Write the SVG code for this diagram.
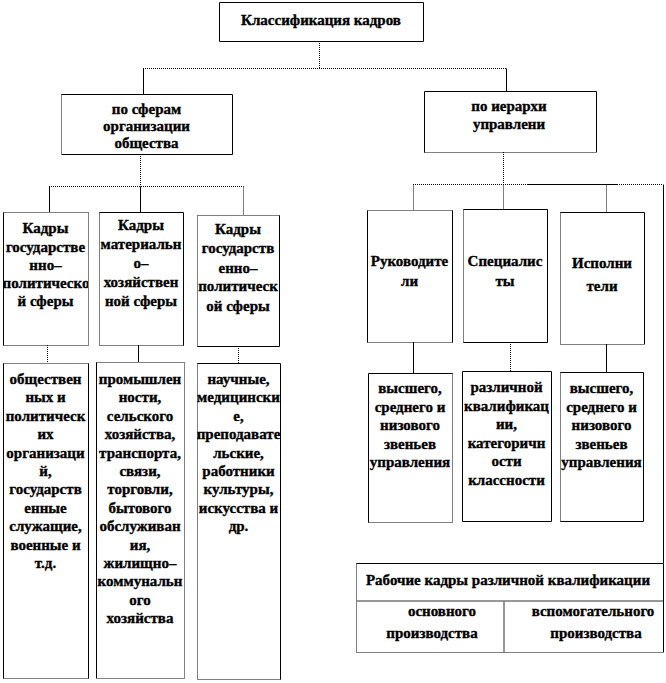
<svg xmlns="http://www.w3.org/2000/svg" width="666" height="683" viewBox="0 0 666 683">
<style>
.s{stroke:#000;stroke-width:1;fill:none}
.d{stroke:#000;stroke-width:1;stroke-dasharray:1 1;fill:none}
.g{stroke:#777;stroke-width:1.5;fill:none}
.bg{fill:#fff;stroke:none}
.t{font-family:'Liberation Serif','Times New Roman',serif;font-weight:700;font-size:15px;text-anchor:middle;fill:#000;stroke:#000;stroke-width:0.35}
</style>
<defs>
<clipPath id="cA1"><rect x="3" y="212" width="85" height="133"/></clipPath>
<clipPath id="cA3"><rect x="197" y="215" width="82" height="131"/></clipPath>
<clipPath id="cC3"><rect x="197" y="363" width="83" height="316"/></clipPath>
</defs>
<rect width="666" height="683" fill="#fff"/>
<g id="connectors">
<path class="d" d="M319.5 41V68.5M143 68.5H506"/>
<path class="s" d="M143.5 68.5V94M506.5 68.5V91"/>
<path class="d" d="M140.5 154V186.5M49 186.5H243.5M243.5 186.5V215"/>
<path class="s" d="M49.5 186.5V212M140.5 186.5V212"/>
<path class="d" d="M503.5 152V184.5M413 184.5H527M617 184.5H663M413.5 184.5V210M503.5 184.5V209M606.5 184.5V212"/>
<path class="s" d="M527 184.5H617M663.5 184.5V563"/>
<path class="d" d="M47.5 345V363M238.5 346V363"/>
<path class="s" d="M138.5 345V362"/>
<path class="s" d="M413.5 342V373M606.5 344V372"/>
<path class="d" d="M510.5 342V371"/>
</g>
<g id="root">
<rect class="bg" x="219" y="2" width="204" height="39"/>
<path class="s" d="M219.5 2.5H423.5V41.5H219.5Z"/>
<text class="t" x="321" y="25">Классификация кадров</text>
</g>
<g id="spheres">
<rect class="bg" x="61" y="94" width="171" height="60"/>
<path class="s" d="M61.5 94.5H232.5V154.5H61.5"/>
<path class="d" d="M61.5 94.5V154.5"/>
<text class="t" x="146.5" y="114">по сферам</text>
<text class="t" x="146.5" y="131">организации</text>
<text class="t" x="146.5" y="148">общества</text>
</g>
<g id="hierarchy">
<rect class="bg" x="424" y="91" width="172" height="61"/>
<path class="s" d="M424.5 152.5V91.5H596.5V152.5"/>
<path class="d" d="M424.5 152.5H596.5"/>
<text class="t" x="509" y="111">по иерархи</text>
<text class="t" x="509" y="129">управлени</text>
</g>
<g id="state-political">
<rect class="bg" x="3" y="212" width="85" height="133"/>
<path class="s" d="M3.5 212.5V345.5"/>
<path class="d" d="M3.5 212.5H88.5V345.5H3.5"/>
<g clip-path="url(#cA1)">
<text class="t" x="45.5" y="233">Кадры</text>
<text class="t" x="45.5" y="252">государстве</text>
<text class="t" x="45.5" y="270">нно–</text>
<text class="t" x="46" y="288">политическо</text>
<text class="t" x="45.5" y="306">й сферы</text>
</g>
</g>
<g id="material">
<rect class="bg" x="99" y="212" width="84" height="133"/>
<path class="s" d="M99.5 212.5H183.5V345.5"/>
<path class="d" d="M99.5 212.5V345.5H183.5"/>
<text class="t" x="141" y="230">Кадры</text>
<text class="t" x="141" y="249">материальн</text>
<text class="t" x="141" y="268">о–</text>
<text class="t" x="141" y="287">хозяйствен</text>
<text class="t" x="141" y="306">ной сферы</text>
</g>
<g id="state-political-2">
<rect class="bg" x="197" y="215" width="82" height="131"/>
<path class="s" d="M279.5 215.5V346.5H197.5"/>
<path class="d" d="M197.5 346.5V215.5H279.5"/>
<g clip-path="url(#cA3)">
<text class="t" x="238" y="234">Кадры</text>
<text class="t" x="238" y="253">государств</text>
<text class="t" x="238" y="273">енно–</text>
<text class="t" x="238" y="291">политическ</text>
<text class="t" x="238" y="311">ой сферы</text>
</g>
</g>
<g id="managers">
<rect class="bg" x="367" y="210" width="85" height="132"/>
<path class="s" d="M367.5 210.5V342.5M452.5 210.5V342.5"/>
<path class="d" d="M367.5 210.5H452.5M367.5 342.5H452.5"/>
<text class="t" x="409.5" y="266">Руководите</text>
<text class="t" x="409.5" y="286">ли</text>
</g>
<g id="specialists">
<rect class="bg" x="463" y="209" width="84" height="133"/>
<path class="s" d="M463.5 209.5H547.5V342.5H463.5"/>
<path class="d" d="M463.5 209.5V342.5"/>
<text class="t" x="505" y="266">Специалис</text>
<text class="t" x="505" y="286">ты</text>
</g>
<g id="executors">
<rect class="bg" x="560" y="212" width="84" height="132"/>
<path class="s" d="M560.5 212.5H644.5V344.5"/>
<path class="d" d="M560.5 212.5V344.5H644.5"/>
<text class="t" x="602" y="268">Исполни</text>
<text class="t" x="602" y="291">тели</text>
</g>
<g id="public-orgs">
<rect class="bg" x="3" y="363" width="85" height="315"/>
<path class="s" d="M3.5 363.5V678.5M88.5 363.5V678.5"/>
<path class="d" d="M3.5 363.5H88.5M3.5 678.5H88.5"/>
<text class="t" x="45.5" y="384">обществен</text>
<text class="t" x="45.5" y="402.4">ных и</text>
<text class="t" x="45.5" y="420.8">политическ</text>
<text class="t" x="45.5" y="439.2">их</text>
<text class="t" x="45.5" y="457.6">организаци</text>
<text class="t" x="45.5" y="476">й,</text>
<text class="t" x="45.5" y="494.4">государств</text>
<text class="t" x="45.5" y="512.8">енные</text>
<text class="t" x="45.5" y="531.2">служащие,</text>
<text class="t" x="45.5" y="549.6">военные и</text>
<text class="t" x="45.5" y="568">т.д.</text>
</g>
<g id="industry">
<rect class="bg" x="96" y="362" width="88" height="316"/>
<path class="s" d="M96.5 362.5V678.5"/>
<path class="d" d="M96.5 362.5H184.5V678.5H96.5"/>
<text class="t" x="140" y="384">промышлен</text>
<text class="t" x="140" y="402.4">ности,</text>
<text class="t" x="140" y="420.8">сельского</text>
<text class="t" x="140" y="439.2">хозяйства,</text>
<text class="t" x="140" y="457.6">транспорта,</text>
<text class="t" x="140" y="476">связи,</text>
<text class="t" x="140" y="494.4">торговли,</text>
<text class="t" x="140" y="512.8">бытового</text>
<text class="t" x="140" y="531.2">обслуживан</text>
<text class="t" x="140" y="549.6">ия,</text>
<text class="t" x="140" y="568">жилищно–</text>
<text class="t" x="140" y="586.4">коммунальн</text>
<text class="t" x="140" y="604.8">ого</text>
<text class="t" x="140" y="623.2">хозяйства</text>
</g>
<g id="science">
<rect class="bg" x="197" y="363" width="83" height="316"/>
<path class="s" d="M197.5 363.5H280.5V679.5"/>
<path class="d" d="M197.5 363.5V679.5H280.5"/>
<g clip-path="url(#cC3)">
<text class="t" x="238.5" y="384">научные,</text>
<text class="t" x="238.5" y="402.4">медицински</text>
<text class="t" x="238.5" y="420.8">е,</text>
<text class="t" x="238.5" y="439.2">преподавате</text>
<text class="t" x="238.5" y="457.6">льские,</text>
<text class="t" x="238.5" y="476">работники</text>
<text class="t" x="238.5" y="494.4">культуры,</text>
<text class="t" x="238.5" y="512.8">искусства и</text>
<text class="t" x="238.5" y="531.2">др.</text>
</g>
</g>
<g id="managers-levels">
<rect class="bg" x="368" y="373" width="84" height="149"/>
<path class="s" d="M368.5 522.5V373.5H452.5"/>
<path class="d" d="M452.5 373.5V522.5H368.5"/>
<text class="t" x="410" y="393">высшего,</text>
<text class="t" x="410" y="411.5">среднего и</text>
<text class="t" x="410" y="430">низового</text>
<text class="t" x="410" y="448.5">звеньев</text>
<text class="t" x="410" y="467">управления</text>
</g>
<g id="specialists-qual">
<rect class="bg" x="462" y="371" width="89" height="150"/>
<path class="s" d="M462.5 371.5H551.5V521.5H462.5Z"/>
<text class="t" x="506.5" y="392">различной</text>
<text class="t" x="506.5" y="410.6">квалификац</text>
<text class="t" x="506.5" y="429.2">ии,</text>
<text class="t" x="506.5" y="447.8">категоричн</text>
<text class="t" x="506.5" y="466.4">ости</text>
<text class="t" x="506.5" y="485">классности</text>
</g>
<g id="executors-levels">
<rect class="bg" x="560" y="372" width="83" height="149"/>
<path class="s" d="M560.5 372.5H643.5V521.5H560.5"/>
<path class="d" d="M560.5 372.5V521.5"/>
<text class="t" x="601.5" y="393">высшего,</text>
<text class="t" x="601.5" y="411.5">среднего и</text>
<text class="t" x="601.5" y="430">низового</text>
<text class="t" x="601.5" y="448.5">звеньев</text>
<text class="t" x="601.5" y="467">управления</text>
</g>
<g id="workers">
<rect class="bg" x="356" y="563" width="307" height="89"/>
<path class="s" d="M356.5 563.5H663.5V652.5"/>
<path class="d" d="M356.5 563.5V652.5H663.5"/>
<path class="g" d="M357 601H663M504 601V652"/>
<text class="t" x="508" y="585">Рабочие кадры различной квалификации</text>
<text class="t" x="442" y="616">основного</text>
<text class="t" x="432" y="638">производства</text>
<text class="t" x="593" y="616">вспомогательного</text>
<text class="t" x="596" y="638">производства</text>
</g>
</svg>
